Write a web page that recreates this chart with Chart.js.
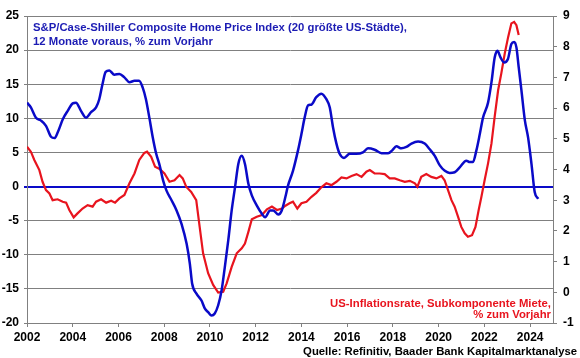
<!DOCTYPE html>
<html>
<head>
<meta charset="utf-8">
<script src="https://cdn.jsdelivr.net/npm/chart.js@4.4.0/dist/chart.umd.min.js"></script>
<style>
  html, body { margin: 0; padding: 0; background: #fff; }
  #wrap { width: 580px; height: 358px; position: relative; }
</style>
</head>
<body>
<div id="wrap"><canvas id="myChart" width="580" height="358"></canvas></div>
<script>
// Case-Shiller 20-city, 12 months ahead (left axis, % yoy)
const homeYears = [
  2002.00, 2002.17, 2002.39, 2002.60, 2002.83, 2003.05, 2003.20, 2003.35, 2003.57, 2003.78,
  2004.00, 2004.14, 2004.36, 2004.58, 2004.80, 2005.02, 2005.16, 2005.30, 2005.44, 2005.60,
  2005.82, 2006.04, 2006.26, 2006.48, 2006.70, 2006.90, 2007.06, 2007.20, 2007.35, 2007.50,
  2007.65, 2007.80, 2007.95, 2008.10, 2008.32, 2008.54, 2008.76, 2008.98, 2009.12, 2009.22,
  2009.41, 2009.63, 2009.78, 2009.92, 2010.07, 2010.21, 2010.36, 2010.51, 2010.65, 2010.80,
  2010.95, 2011.10, 2011.24, 2011.39, 2011.53, 2011.68, 2011.83, 2012.05, 2012.27, 2012.41,
  2012.63, 2012.77, 2012.99, 2013.14, 2013.30, 2013.41, 2013.63, 2013.85, 2014.00, 2014.14,
  2014.29, 2014.43, 2014.65, 2014.87, 2015.09, 2015.24, 2015.38, 2015.53, 2015.67, 2015.86,
  2016.11, 2016.40, 2016.69, 2016.91, 2017.20, 2017.50, 2017.79, 2017.97, 2018.15, 2018.37,
  2018.59, 2018.81, 2019.10, 2019.39, 2019.60, 2019.83, 2020.05, 2020.27, 2020.48, 2020.70,
  2020.92, 2021.21, 2021.36, 2021.50, 2021.65, 2021.80, 2021.94, 2022.16, 2022.31, 2022.45,
  2022.57, 2022.71, 2022.86, 2023.03, 2023.18, 2023.30, 2023.40, 2023.50, 2023.62, 2023.77,
  2023.91, 2024.06, 2024.20, 2024.35
];
const homeValues = [
  12.3, 11.6, 10.1, 9.7, 8.9, 7.3, 7.1, 8.0, 9.9, 11.1,
  12.2, 12.3, 11.1, 10.1, 10.9, 11.6, 12.8, 15.0, 16.8, 17.0,
  16.4, 16.5, 16.0, 15.3, 15.5, 15.5, 14.5, 12.8, 10.1, 7.2,
  4.8, 3.1, 0.9, -0.6, -2.0, -3.5, -5.5, -8.4, -11.3, -14.2,
  -15.7, -16.7, -17.9, -18.4, -18.9, -18.6, -17.4, -15.2, -11.8, -7.9,
  -3.5, 0.0, 3.3, 4.5, 3.3, 0.4, -1.3, -2.8, -4.0, -4.5,
  -3.5, -3.5, -4.1, -3.5, -1.5, 0.1, 2.3, 5.3, 7.7, 10.1,
  11.9, 12.0, 13.1, 13.6, 12.8, 11.6, 8.7, 6.3, 4.8, 4.2,
  4.8, 4.8, 5.0, 5.6, 5.4, 4.9, 4.9, 5.3, 5.9, 5.6,
  5.8, 6.3, 6.6, 6.3, 5.5, 4.5, 3.1, 2.3, 2.0, 2.1,
  2.8, 3.8, 3.6, 3.6, 5.3, 7.7, 10.1, 12.3, 15.3, 18.9,
  19.9, 18.9, 18.2, 18.7, 20.9, 21.2, 20.4, 17.5, 14.1, 9.7,
  7.2, 3.3, -0.8, -1.8
];

// CPI rent component (right axis, % yoy)
const rentYears = [
  2002.00, 2002.17, 2002.32, 2002.54, 2002.68, 2002.83, 2002.98, 2003.12, 2003.34, 2003.56,
  2003.71, 2003.85, 2004.04, 2004.21, 2004.43, 2004.65, 2004.87, 2005.02, 2005.24, 2005.46,
  2005.68, 2005.85, 2006.04, 2006.26, 2006.48, 2006.70, 2006.91, 2007.13, 2007.25, 2007.43,
  2007.60, 2007.80, 2008.01, 2008.23, 2008.45, 2008.67, 2008.81, 2008.96, 2009.18, 2009.40,
  2009.55, 2009.70, 2009.92, 2010.14, 2010.36, 2010.58, 2010.73, 2010.95, 2011.17, 2011.39,
  2011.53, 2011.68, 2011.83, 2012.05, 2012.27, 2012.49, 2012.71, 2012.93, 2013.15, 2013.30,
  2013.48, 2013.63, 2013.82, 2014.00, 2014.22, 2014.44, 2014.65, 2014.87, 2015.09, 2015.31,
  2015.53, 2015.75, 2015.97, 2016.19, 2016.41, 2016.63, 2016.84, 2016.99, 2017.20, 2017.42,
  2017.64, 2017.86, 2018.08, 2018.30, 2018.52, 2018.74, 2018.96, 2019.07, 2019.24, 2019.46,
  2019.68, 2019.90, 2020.12, 2020.26, 2020.41, 2020.56, 2020.70, 2020.85, 2020.99, 2021.14,
  2021.28, 2021.46, 2021.61, 2021.75, 2021.87, 2022.01, 2022.16, 2022.31, 2022.45, 2022.60,
  2022.74, 2022.89, 2023.04, 2023.18, 2023.30, 2023.40, 2023.50
];
const rentValues = [
  4.74, 4.58, 4.31, 3.98, 3.60, 3.33, 3.22, 3.00, 3.03, 2.95,
  2.92, 2.68, 2.44, 2.57, 2.73, 2.84, 2.79, 2.95, 3.03, 2.92,
  2.98, 2.92, 3.06, 3.17, 3.55, 3.87, 4.31, 4.54, 4.58, 4.41,
  4.09, 4.02, 3.87, 3.60, 3.65, 3.82, 3.71, 3.44, 3.27, 3.00,
  2.13, 1.27, 0.62, 0.24, -0.01, 0.02, 0.29, 0.83, 1.27, 1.43,
  1.59, 1.97, 2.38, 2.46, 2.52, 2.70, 2.79, 2.68, 2.73, 2.82,
  2.90, 2.95, 2.73, 2.90, 2.95, 3.11, 3.24, 3.42, 3.55, 3.49,
  3.60, 3.74, 3.71, 3.79, 3.85, 3.76, 3.93, 3.98, 3.87, 3.87,
  3.85, 3.71, 3.71, 3.65, 3.60, 3.63, 3.55, 3.44, 3.76, 3.85,
  3.76, 3.71, 3.79, 3.65, 3.33, 3.00, 2.79, 2.46, 2.13, 1.92,
  1.81, 1.86, 2.13, 2.68, 3.11, 3.65, 4.20, 4.85, 5.72, 6.58,
  7.13, 7.78, 8.32, 8.76, 8.81, 8.70, 8.38
];

const titleLines = ['S&P/Case-Shiller Composite Home Price Index (20 größte US-Städte),', '12 Monate voraus, % zum Vorjahr'];
const rentLabelLines = ['US-Inflationsrate, Subkomponente Miete,', '% zum Vorjahr'];
const sourceText = 'Quelle: Refinitiv, Baader Bank Kapitalmarktanalyse';

const FONT = '"Liberation Sans", Arial, sans-serif';
const BLUE = '#0a0ac8';
const RED = '#e8141e';
const GRID = '#808080';

// draws a block of lines, font size chosen so the first line has the given width
function drawBlock(ctx, lines, x, y, width, lineGap, align, color) {
  ctx.save();
  ctx.font = 'bold 12px ' + FONT;
  const w = ctx.measureText(lines[0]).width;
  const size = 12 * width / w;
  ctx.font = 'bold ' + size.toFixed(2) + 'px ' + FONT;
  ctx.fillStyle = color;
  ctx.textAlign = align;
  ctx.textBaseline = 'alphabetic';
  lines.forEach((line, i) => ctx.fillText(line, x, y + i * lineGap));
  ctx.restore();
}

const textPlugin = {
  id: 'texts',
  afterDraw(chart) {
    const ctx = chart.ctx;
    drawBlock(ctx, titleLines, 33, 31, 374, 14, 'left', '#1c1cb4');
    drawBlock(ctx, rentLabelLines, 551, 307, 221, 11, 'right', RED);
    drawBlock(ctx, [sourceText], 577, 355, 274, 12, 'right', '#000');
  }
};

const tickFont = { family: FONT, size: 12, weight: 'bold' };

new Chart(document.getElementById('myChart'), {
  type: 'line',
  data: {
    datasets: [
      {
        data: homeYears.map((x, i) => ({ x: x, y: homeValues[i] })),
        yAxisID: 'y',
        borderColor: BLUE,
        borderWidth: 2.5,
        pointRadius: 0,
        cubicInterpolationMode: 'monotone'
      },
      {
        data: rentYears.map((x, i) => ({ x: x, y: rentValues[i] })),
        yAxisID: 'y1',
        borderColor: RED,
        borderWidth: 2.2,
        pointRadius: 0,
        tension: 0
      }
    ]
  },
  options: {
    responsive: false,
    animation: false,
    layout: { padding: { top: 16, left: 0, right: 0, bottom: 0 } },
    plugins: { legend: { display: false }, tooltip: { enabled: false } },
    scales: {
      x: {
        type: 'linear',
        min: 2002,
        max: 2025,
        afterFit: s => { s.height = 35; },
        grid: { drawOnChartArea: false, color: GRID, tickLength: 4 },
        border: { color: GRID },
        ticks: {
          stepSize: 2,
          includeBounds: false,
          maxRotation: 0,
          padding: 3,
          color: '#000',
          font: tickFont,
          callback: v => String(v)
        }
      },
      y: {
        position: 'left',
        min: -20,
        max: 25,
        afterFit: s => { s.width = 27; },
        grid: {
          color: c => (c.tick && c.tick.value === 0 ? BLUE : GRID),
          lineWidth: c => (c.tick && c.tick.value === 0 ? 2 : 1),
          tickLength: 3
        },
        border: { color: GRID },
        ticks: { stepSize: 5, padding: 5, color: '#000', font: tickFont }
      },
      y1: {
        position: 'right',
        min: -1,
        max: 9,
        afterFit: s => { s.width = 27; },
        grid: { drawOnChartArea: false, color: GRID, tickLength: 4 },
        border: { color: GRID },
        ticks: { stepSize: 1, padding: 6, color: '#000', font: tickFont }
      }
    }
  },
  plugins: [textPlugin]
});
</script>
</body>
</html>
